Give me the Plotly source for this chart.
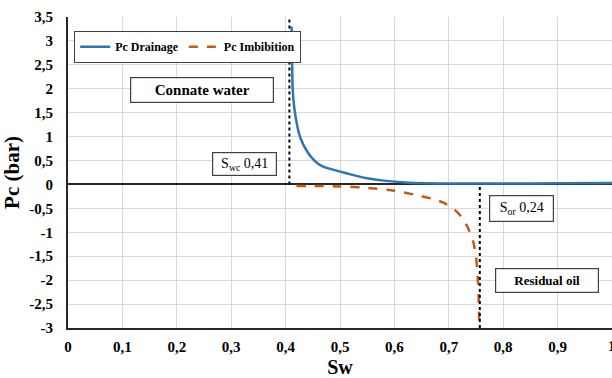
import plotly.graph_objects as go

# Data
sw_drain = [0.411, 0.412, 0.413, 0.416, 0.421, 0.428, 0.438, 0.448, 0.458, 0.468, 0.49, 0.51,
            0.53, 0.55, 0.58, 0.62, 0.66, 0.7, 0.8, 0.9, 1.0]
pc_drain = [3.3, 2.5, 2.0, 1.6, 1.25, 0.95, 0.72, 0.56, 0.45, 0.38, 0.3, 0.24,
            0.18, 0.13, 0.08, 0.04, 0.025, 0.02, 0.02, 0.025, 0.03]

sw_imb = [0.42, 0.5, 0.55, 0.6, 0.64, 0.67, 0.69, 0.71, 0.725, 0.737, 0.745, 0.75, 0.753, 0.755, 0.756]
pc_imb = [-0.03, -0.04, -0.07, -0.13, -0.22, -0.3, -0.38, -0.52, -0.7, -0.95, -1.2, -1.5, -1.9, -2.4, -2.95]

# dotted marker positions (Swc 0,41 ; 1 - Sor 0,24)
swc_line = 0.407
sor_line = 0.757

x_ticks = [0, 0.1, 0.2, 0.3, 0.4, 0.5, 0.6, 0.7, 0.8, 0.9, 1]
x_labels = ["0", "0,1", "0,2", "0,3", "0,4", "0,5", "0,6", "0,7", "0,8", "0,9", "1"]
y_ticks = [-3, -2.5, -2, -1.5, -1, -0.5, 0, 0.5, 1, 1.5, 2, 2.5, 3, 3.5]
y_labels = ["-3", "-2,5", "-2", "-1,5", "-1", "-0,5", "0", "0,5", "1", "1,5", "2", "2,5", "3", "3,5"]

SERIF = "Liberation Serif"
TICK = 15

fig = go.Figure()
fig.add_trace(go.Scatter(x=sw_drain, y=pc_drain, mode="lines", name="Pc Drainage",
                         line=dict(color="#2E75B6", width=2.5, shape="spline", smoothing=0.6)))
fig.add_trace(go.Scatter(x=sw_imb, y=pc_imb, mode="lines", name="Pc Imbibition",
                         line=dict(color="#C55A11", width=2.5, dash="dash", shape="spline", smoothing=0.6)))

# dotted vertical markers
fig.add_shape(type="line", x0=swc_line, x1=swc_line, y0=0, y1=3.5, xref="x", yref="y",
              line=dict(color="black", width=2, dash="dot"))
fig.add_shape(type="line", x0=sor_line, x1=sor_line, y0=-3, y1=0, xref="x", yref="y",
              line=dict(color="black", width=2, dash="dot"))

box = dict(bordercolor="#404040", borderwidth=1.2, bgcolor="white", showarrow=False,
           xref="x", yref="y")
fig.add_annotation(x=0.247, y=1.975, text="<b>Connate water</b>", width=140, height=22,
                   font=dict(family=SERIF, size=15, color="black"), **box)
fig.add_annotation(x=0.324, y=0.43, text="S<sub>wc</sub> 0,41", width=61, height=20,
                   font=dict(family=SERIF, size=14, color="black"), **box)
fig.add_annotation(x=0.834, y=-0.5, text="S<sub>or</sub> 0,24", width=61, height=23,
                   font=dict(family=SERIF, size=14, color="black"), **box)
fig.add_annotation(x=0.881, y=-2.0, text="<b>Residual oil</b>", width=100, height=21,
                   font=dict(family=SERIF, size=13, color="black"), **box)

# last x tick label, partly cut off by the right edge as in the reference
fig.add_annotation(x=x_ticks[-1], y=0, xref="x", yref="paper", yanchor="top", xanchor="center",
                   yshift=-8, showarrow=False, text="<b>%s</b>" % x_labels[-1],
                   font=dict(family=SERIF, size=TICK, color="black"))

fig.update_layout(
    width=612, height=378,
    margin=dict(l=68, r=0, t=17, b=50),
    paper_bgcolor="white", plot_bgcolor="white",
    font=dict(family=SERIF, color="black"),
    showlegend=True,
    legend=dict(orientation="h", x=0.011, y=0.955, xanchor="left", yanchor="top",
                bordercolor="#404040", borderwidth=1.2, bgcolor="white",
                font=dict(family=SERIF, size=12, color="black", weight="bold"),
                itemwidth=30, tracegroupgap=0),
    xaxis=dict(range=[0, 1], tickvals=x_ticks, ticktext=["<b>%s</b>" % t for t in x_labels],
               showgrid=True, gridcolor="#d9d9d9",
               showline=True, linecolor="#262626", linewidth=2, zeroline=False,
               ticks="", automargin=False, ticklabelstandoff=4,
               tickfont=dict(family=SERIF, size=TICK, color="black"),
               title=dict(text="<b>Sw</b>", font=dict(family=SERIF, size=20, color="black"),
                          standoff=10)),
    yaxis=dict(range=[-3, 3.5], tickvals=y_ticks, ticktext=["<b>%s</b>" % t for t in y_labels],
               showgrid=True, gridcolor="#d9d9d9",
               showline=True, linecolor="#262626", linewidth=2,
               zeroline=True, zerolinecolor="#262626", zerolinewidth=2,
               ticks="", automargin=False, ticklabelstandoff=10,
               tickfont=dict(family=SERIF, size=TICK, color="black"),
               title=dict(text="<b>Pc (bar)</b>", font=dict(family=SERIF, size=21, color="black"),
                          standoff=4)),
)

fig.write_html("out.html", config={"displayModeBar": False},
               post_script="document.body.style.margin='0';")
